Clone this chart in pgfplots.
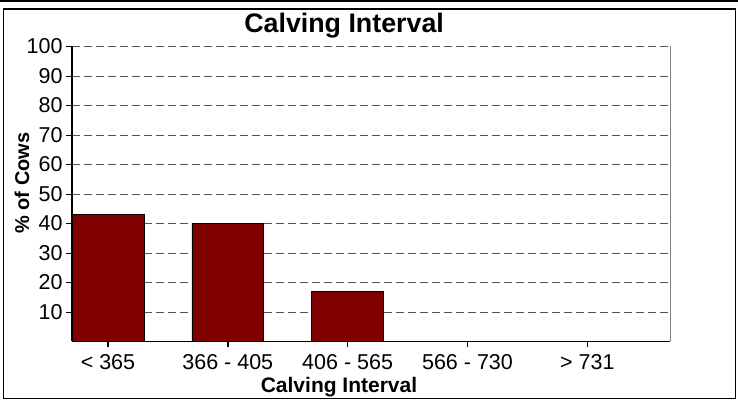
\documentclass[border=0pt]{standalone}
\usepackage{pgfplots}
\pgfplotsset{compat=1.18}
\usepackage{fontspec}
\setmainfont{Liberation Sans}
\definecolor{barred}{HTML}{800000}
\definecolor{gridgray}{HTML}{555555}
\begin{document}
\begin{tikzpicture}
\fill[black] (0pt,398.5pt) rectangle (738pt,401pt);
\draw[black, line width=1.5pt] (3.5pt,2.5pt) rectangle (735.5pt,392pt);
\begin{axis}[
  at={(72pt,59.5pt)}, anchor=south west,
  scale only axis, width=598pt, height=295pt,
  xmin=-0.3, xmax=4.69, ymin=0, ymax=100,
  axis x line=bottom, axis y line=left,
  axis line style={-, black, line width=1.5pt},
  xtick={0,1,2,3,4},
  xticklabels={{< 365},{366 - 405},{406 - 565},{566 - 730},{> 731}},
  ytick={10,20,...,100},
  tick align=outside,
  x tick style={black, line width=1.5pt},
  y tick style={black, line width=0.6pt},
  major tick length=6pt,
  ymajorgrids,
  grid style={gridgray, line width=0.8pt, dash pattern=on 8pt off 4pt},
  xticklabel style={font=\fontsize{21.5}{23}\selectfont, yshift=-3pt},
  yticklabel style={font=\fontsize{21.5}{23}\selectfont},
  /pgf/number format/assume math mode=true,
  title={Calving Interval},
  title style={at={(0.455,1.028)}, anchor=base, font=\bfseries\fontsize{26.8}{28}\selectfont, inner sep=0pt},
  xlabel={Calving Interval},
  xlabel style={at={(0.4465,-0.1736)}, anchor=base, font=\bfseries\fontsize{21}{23}\selectfont, inner sep=0pt},
  ylabel={\% of Cows},
  ylabel style={at={(-0.0836,0.537)}, anchor=center, font=\bfseries\fontsize{20}{22}\selectfont, inner sep=0pt},
  clip=false,
]
\addplot[ybar, bar width=0.6, fill=barred, draw=black, line width=0.6pt]
  coordinates {(0,43) (1,40) (2,17) (3,0) (4,0)};
\draw[gray, line width=1pt] (rel axis cs:1,0) -- (rel axis cs:1,1);
\end{axis}
\pgfresetboundingbox
\path[use as bounding box] (0pt,0pt) rectangle (738pt,401pt);
\end{tikzpicture}
\end{document}
